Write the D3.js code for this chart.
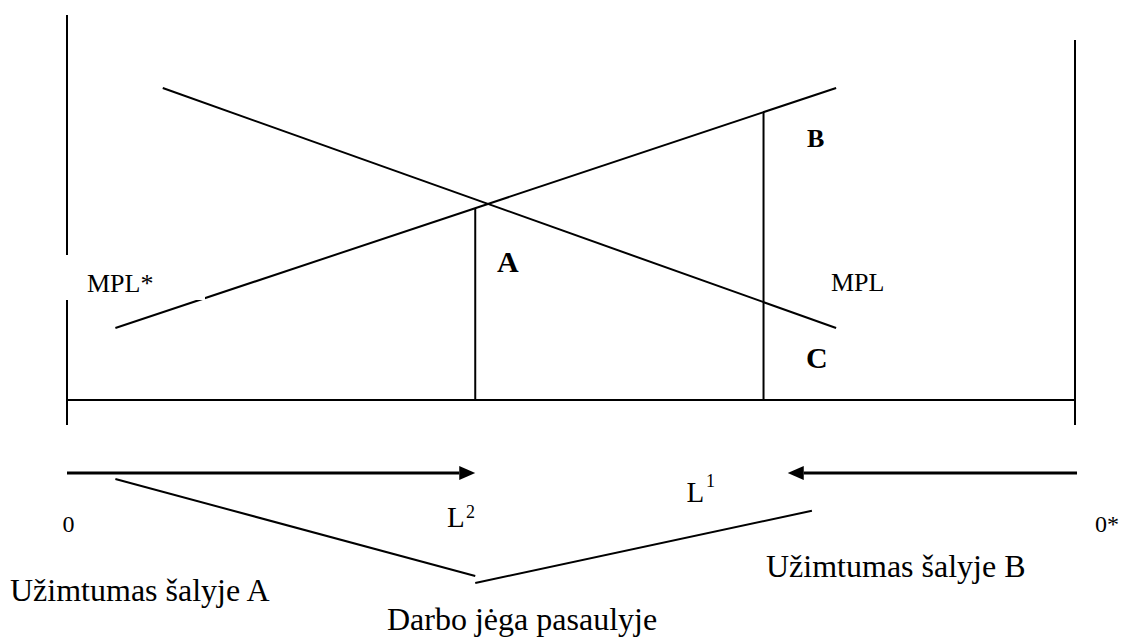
<!DOCTYPE html>
<html>
<head>
<meta charset="utf-8">
<script src="https://cdn.jsdelivr.net/npm/d3@7/dist/d3.min.js"></script>
<style>
  html, body { margin: 0; padding: 0; background: #fff; }
  svg { display: block; }
  text { font-family: "Liberation Serif", "Times New Roman", serif; fill: #000; }
</style>
</head>
<body>
<svg id="chart" width="1123" height="637"></svg>
<script>
// ---- Data (diagram units: labour on x, wage / MPL on y) ----
const mplStar = [[4.8, 7.2], [76.3, 31.2]];      // MPL* (country B), rising
const mpl     = [[9.5, 31.2], [76.3, 7.2]];      // MPL (country A), falling
const laborPoints = [
  { name: "L2", x: 40.5 },
  { name: "L1", x: 69.1 }
];
const leftAxis  = [[0, -2.5], [0, 38.5]];
const rightAxis = [[100, -2.5], [100, 36]];
const baseline  = [[0, 0], [100, 0]];
const arrowA = [[0, -7.3], [40.5, -7.3]];        // employment in country A
const arrowB = [[100.2, -7.3], [71.5, -7.3]];    // employment in country B
const braceLeft  = [[4.8, -7.9], [40.5, -17.6]];
const braceRight = [[40.5, -18.3], [73.9, -11.07]];
const labels = {
  mplStar: "MPL*", mpl: "MPL", A: "A", B: "B", C: "C",
  zero: "0", zeroStar: "0*",
  empA: "Užimtumas šalyje A", empB: "Užimtumas šalyje B",
  world: "Darbo jėga pasaulyje"
};

// ---- Scales ----
const x = d3.scaleLinear().domain([0, 100]).range([67, 1075]);
const y = d3.scaleLinear().domain([0, 40]).range([400, 0]);

const svg = d3.select("#chart");
const line = d3.line().x(d => x(d[0])).y(d => y(d[1]));

function seg(pts, w) {
  svg.append("path").attr("d", line(pts))
    .attr("fill", "none").attr("stroke", "#000")
    .attr("stroke-width", w).attr("stroke-linecap", "butt");
}

// axes / frame
seg(leftAxis, 2);
seg(rightAxis, 2);
seg(baseline, 2);

// curves
seg(mplStar, 2);
seg(mpl, 2);

// vertical lines from baseline up to MPL*
const mplStarAt = xv => {
  const [[x0, y0], [x1, y1]] = mplStar;
  return y0 + (y1 - y0) * (xv - x0) / (x1 - x0);
};
laborPoints.forEach(p => seg([[p.x, 0], [p.x, mplStarAt(p.x)]], 2));

// arrows
function arrow(pts) {
  const [p0, p1] = pts.map(d => [x(d[0]), y(d[1])]);
  const dir = Math.sign(p1[0] - p0[0]);
  const headLen = 16, half = 7;
  svg.append("line")
    .attr("x1", p0[0]).attr("y1", p0[1])
    .attr("x2", p1[0] - dir * headLen).attr("y2", p1[1])
    .attr("stroke", "#000").attr("stroke-width", 3);
  svg.append("path")
    .attr("d", `M${p1[0]},${p1[1]} L${p1[0] - dir * headLen},${p1[1] - half} L${p1[0] - dir * headLen},${p1[1] + half} Z`)
    .attr("fill", "#000");
}
arrow(arrowA);
arrow(arrowB);

// brace-like lines
seg(braceLeft, 2);
seg(braceRight, 2);

// white text box behind MPL* (clips the axis and curve as in the original)
svg.append("rect").attr("x", 66).attr("y", 255).attr("width", 139).attr("height", 45).attr("fill", "#fff");

// ---- Labels ----
function txt(s, px, py, size, weight) {
  return svg.append("text").attr("x", px).attr("y", py)
    .attr("font-size", size).attr("font-weight", weight || "normal").text(s);
}
txt(labels.mplStar, 87, 291.5, 26);
txt(labels.mpl, 831, 291, 26);
txt(labels.A, 497, 271.5, 30, "bold");
txt(labels.B, 807, 146.5, 26, "bold");
txt(labels.C, 806, 367.5, 30, "bold");
txt(labels.zero, 62.5, 531.5, 24);
txt(labels.zeroStar, 1095, 531.5, 24);

// L^2 and L^1
txt("L", 447, 527, 29);
txt("2", 466, 518, 18);
txt("L", 686.5, 501.5, 29);
txt("1", 706, 487, 18);

txt(labels.empA, 10, 601, 32);
txt(labels.world, 387, 629.5, 32);
txt(labels.empB, 766, 577, 32);
</script>
</body>
</html>
